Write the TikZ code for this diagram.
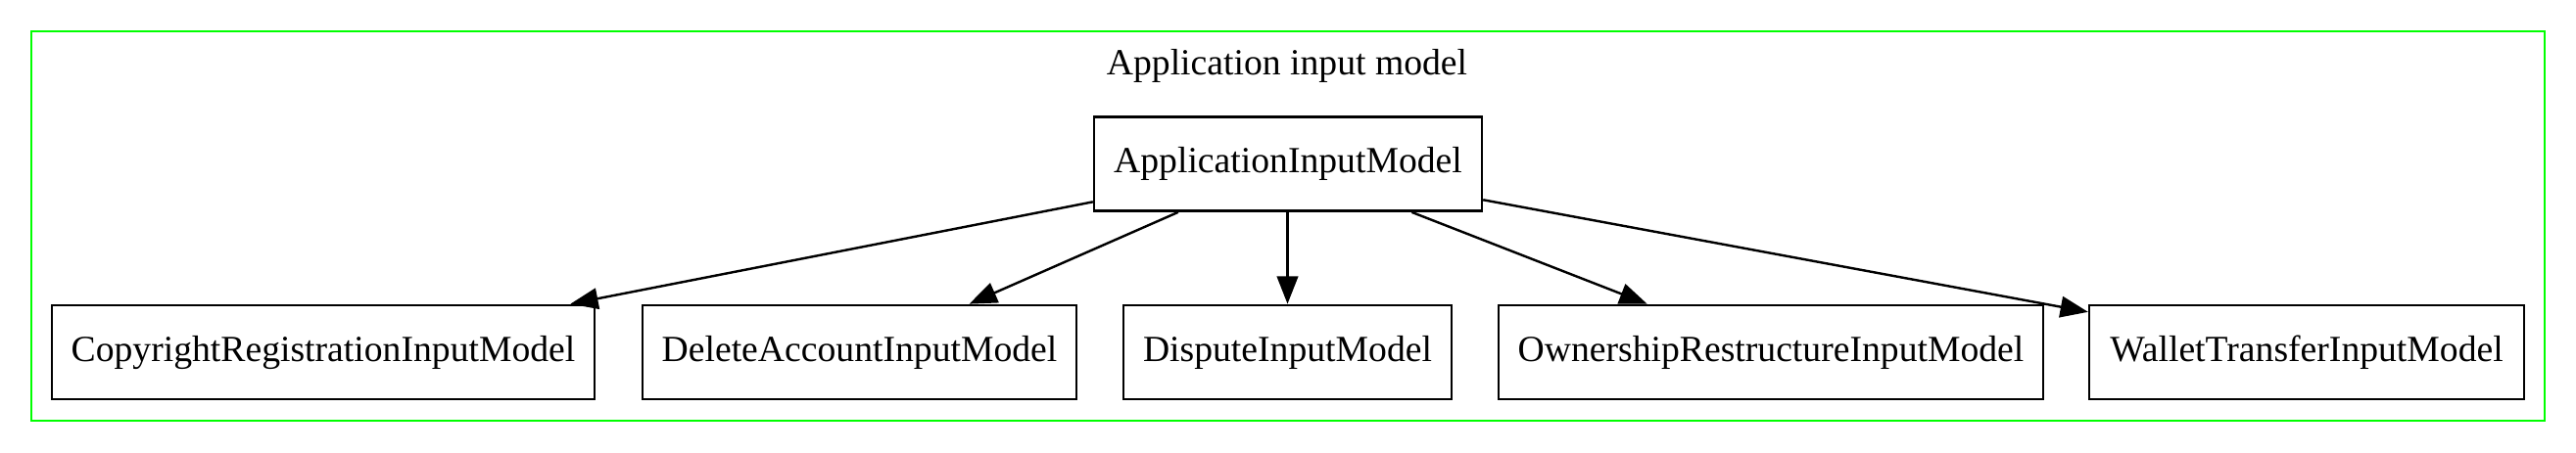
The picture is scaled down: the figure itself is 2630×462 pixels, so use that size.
\documentclass[tikz,border=0pt]{standalone}
\usepackage{fontspec}
\setmainfont{Liberation Serif}
\usetikzlibrary{arrows.meta}
\definecolor{framegreen}{HTML}{00FF00}
\tikzset{
  mbox/.style={draw=black, line width=0.9pt, rectangle, inner sep=0pt,
    minimum height=35.8pt, font=\fontsize{14}{16}\selectfont},
  arr/.style={draw=black, line width=0.9pt, -{Triangle[length=10.5pt,width=8pt]}},
  cluster/.style={draw=framegreen, line width=0.8pt},
  titletext/.style={font=\fontsize{14}{16}\selectfont, inner sep=0pt}
}
\begin{document}
\begin{tikzpicture}[x=0.3717pt, y=-0.3717pt]
\useasboundingbox (0,0) rectangle (2630,462);
\draw[cluster] (32,32) rectangle (2598,430);
\node[titletext] (title) at (1314,67) {Application input model};
\node[mbox, minimum width=147.2pt] (root) at (1315,167.5) {ApplicationInputModel};
\node[mbox, minimum width=205.9pt] (copy) at (330,360) {CopyrightRegistrationInputModel};
\node[mbox, minimum width=164.7pt] (del) at (877.5,360) {DeleteAccountInputModel};
\node[mbox, minimum width=124.5pt] (disp) at (1314.5,360) {DisputeInputModel};
\node[mbox, minimum width=206.7pt] (own) at (1808,360) {OwnershipRestructureInputModel};
\node[mbox, minimum width=165.0pt] (wal) at (2355,360) {WalletTransferInputModel};
\draw[arr] (root) -- (copy);
\draw[arr] (root) -- (del);
\draw[arr] (root.south -| disp) -- (disp);
\draw[arr] (root) -- (own);
\draw[arr] (root) -- (wal);
\end{tikzpicture}
\end{document}
